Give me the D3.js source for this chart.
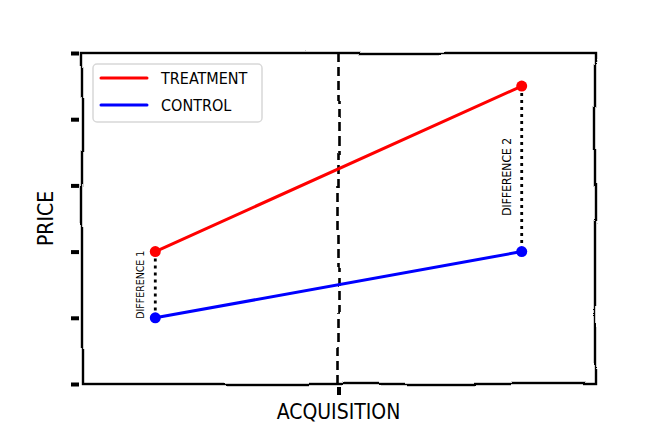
<!DOCTYPE html>
<html>
<head>
<meta charset="utf-8">
<script src="https://cdn.jsdelivr.net/npm/d3@7"></script>
<style>
  body { margin: 0; background: #fff; }
  text { font-family: "DejaVu Sans Condensed", "DejaVu Sans", sans-serif; }
</style>
</head>
<body>
<svg id="chart" width="660" height="440"></svg>
<script>
// data
var periods = [0, 1];
var treatment = [2, 4.5];
var control = [1, 2];
var acquisition = 0.5;
var yTicks = [0, 1, 2, 3, 4, 5];
var seriesNames = ["TREATMENT", "CONTROL"];
var seriesColors = ["#ff0000", "#0000ff"];
var diffLabels = ["DIFFERENCE 1", "DIFFERENCE 2"];

var svg = d3.select("#chart"),
    width = +svg.attr("width"),
    height = +svg.attr("height");
var margin = {top: 53, right: 65, bottom: 56, left: 82};

var x = d3.scaleLinear().domain([-0.2, 1.2]).range([margin.left, width - margin.right]);
var y = d3.scaleLinear().domain([0, 5]).range([height - margin.bottom, margin.top]);

// hand drawn wiggle for the frame
var defs = svg.append("defs");
var f = defs.append("filter").attr("id", "xkcd")
    .attr("filterUnits", "userSpaceOnUse")
    .attr("x", 0).attr("y", 0).attr("width", width).attr("height", height);
f.append("feTurbulence").attr("type", "fractalNoise")
    .attr("baseFrequency", 0.012).attr("numOctaves", 1).attr("seed", 5)
    .attr("result", "noise");
f.append("feGaussianBlur").attr("in", "noise").attr("stdDeviation", 4).attr("result", "soft");
f.append("feDisplacementMap").attr("in", "SourceGraphic").attr("in2", "soft")
    .attr("scale", 5).attr("xChannelSelector", "R").attr("yChannelSelector", "G")
    .attr("result", "disp");
f.append("feGaussianBlur").attr("in", "disp").attr("stdDeviation", 0.35);

var wig = svg.append("g").attr("filter", "url(#xkcd)");

// frame
var x0 = x.range()[0], x1 = x.range()[1], y0 = y.range()[0], y1 = y.range()[1];
wig.append("rect")
    .attr("x", x0).attr("y", y1)
    .attr("width", x1 - x0).attr("height", y0 - y1)
    .attr("fill", "none").attr("stroke", "#000").attr("stroke-width", 2.4);

// y axis ticks
var yAxis = d3.axisLeft(y).tickValues(yTicks).tickSize(10).tickFormat("");
var gy = svg.append("g").attr("transform", "translate(" + (x0 - 3) + ",0)").call(yAxis);
gy.select(".domain").remove();
gy.selectAll(".tick line").attr("stroke", "#000").attr("stroke-width", 4).attr("x2", -8);

// x axis tick at acquisition
var xAxis = d3.axisBottom(x).tickValues([acquisition]).tickSize(10).tickFormat("");
var gx = svg.append("g").attr("transform", "translate(0," + (y0 + 3) + ")").call(xAxis);
gx.select(".domain").remove();
gx.selectAll(".tick line").attr("stroke", "#000").attr("stroke-width", 4).attr("y2", 8);

// acquisition dashed line
wig.append("line")
    .attr("x1", x(acquisition)).attr("x2", x(acquisition))
    .attr("y1", y1).attr("y2", y0)
    .attr("stroke", "#000").attr("stroke-width", 2.6)
    .attr("stroke-dasharray", "9,5");

// difference dotted lines
periods.forEach(function(p, i) {
    svg.append("line")
        .attr("x1", x(p)).attr("x2", x(p))
        .attr("y1", y(treatment[i])).attr("y2", y(control[i]))
        .attr("stroke", "#000").attr("stroke-width", 2.8)
        .attr("stroke-dasharray", "2.8,4.2");
});

// series lines
var line = d3.line().x(function(d) { return x(d[0]); }).y(function(d) { return y(d[1]); });
[treatment, control].forEach(function(vals, i) {
    var pts = periods.map(function(p, j) { return [p, vals[j]]; });
    svg.append("path").datum(pts)
        .attr("d", line)
        .attr("fill", "none")
        .attr("stroke", seriesColors[i])
        .attr("stroke-width", 3)
        .attr("stroke-linecap", "round");
});

// markers
[treatment, control].forEach(function(vals, i) {
    svg.selectAll(".dot" + i)
        .data(periods)
        .enter().append("circle")
        .attr("cx", function(d) { return x(d); })
        .attr("cy", function(d, j) { return y(vals[j]); })
        .attr("r", 5.5)
        .attr("fill", seriesColors[i]);
});

// difference labels
periods.forEach(function(p, i) {
    var mid = (y(treatment[i]) + y(control[i])) / 2 + (i === 1 ? 8 : 0);
    svg.append("text")
        .attr("transform", "translate(" + (x(p) - 15) + "," + mid + ") rotate(-90)")
        .attr("text-anchor", "middle")
        .attr("dy", "0.35em")
        .attr("font-size", i === 1 ? 12 : 10.5)
        .text(diffLabels[i]);
});

// legend
var lg = svg.append("g").attr("transform", "translate(93,64)");
lg.append("rect")
    .attr("width", 169).attr("height", 58).attr("rx", 4)
    .attr("fill", "#fff").attr("fill-opacity", 0.8)
    .attr("stroke", "#d8d8d8").attr("stroke-width", 1.5);
var items = lg.selectAll(".item").data(seriesNames).enter().append("g")
    .attr("transform", function(d, i) { return "translate(0," + (14 + i * 27) + ")"; });
items.append("line")
    .attr("x1", 8).attr("x2", 54)
    .attr("stroke", function(d, i) { return seriesColors[i]; })
    .attr("stroke-width", 3)
    .attr("stroke-linecap", "round");
items.append("text")
    .attr("x", 68).attr("dy", "0.35em")
    .attr("font-size", 16)
    .text(function(d) { return d; });

// axis labels
svg.append("text")
    .attr("x", x(acquisition)).attr("y", 419)
    .attr("text-anchor", "middle")
    .attr("font-size", 21)
    .text("ACQUISITION");
svg.append("text")
    .attr("transform", "translate(53," + ((y0 + y1) / 2) + ") rotate(-90)")
    .attr("text-anchor", "middle")
    .attr("font-size", 21)
    .text("PRICE");
</script>
</body>
</html>
